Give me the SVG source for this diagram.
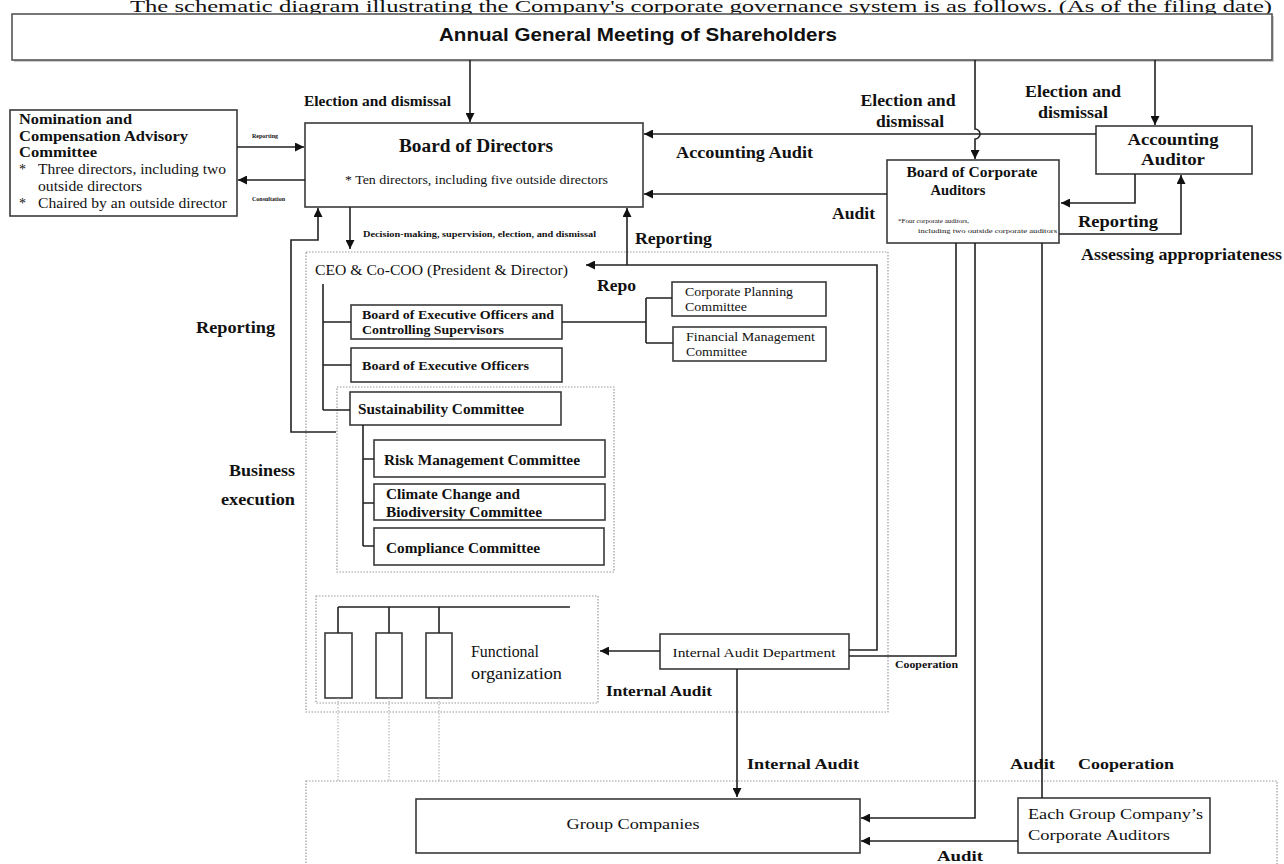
<svg xmlns="http://www.w3.org/2000/svg" width="1284" height="864" viewBox="0 0 1284 864">
<defs>
<marker id="ah" viewBox="0 0 10 10" refX="10" refY="5" markerWidth="9" markerHeight="9" markerUnits="userSpaceOnUse" orient="auto"><path d="M0,0 L10,5 L0,10 z" fill="#111"/></marker>
</defs>
<style>
.box{fill:#fff;stroke:#3a3a3a;stroke-width:1.6}
.dot{fill:none;stroke:#999;stroke-width:1.2;stroke-dasharray:1.5 1.5}
.ln{fill:none;stroke:#222;stroke-width:1.6}
.ar{fill:none;stroke:#222;stroke-width:1.6;marker-end:url(#ah)}
.dl{fill:none;stroke:#aaa;stroke-width:1;stroke-dasharray:1.5 1.5}
text{font-family:"Liberation Serif","Times New Roman",serif;fill:#111}
text.sans{font-family:"Liberation Sans",Arial,sans-serif}
.b{font-weight:bold}
.lb{font-weight:bold;font-size:16px}
.s14{font-size:14px}
.s12{font-size:12px}
</style>
<rect width="1284" height="864" fill="#fff"/>
<text x="130" y="12" font-size="16" textLength="1142" lengthAdjust="spacingAndGlyphs">The schematic diagram illustrating the Company's corporate governance system is as follows. (As of the filing date)</text>

<!-- dotted containers -->
<rect class="dot" x="306" y="252" width="582" height="460"/>
<rect class="dot" x="337" y="387" width="277" height="185"/>
<rect class="dot" x="316" y="596" width="282" height="107"/>
<rect class="dot" x="306" y="781" width="971" height="90"/>

<g id="agm">
<rect x="14" y="16" width="1260" height="46" fill="#ccc"/>
<rect x="12" y="14" width="1260" height="46" fill="#fff" stroke="#555" stroke-width="1.6"/>
<text class="sans" x="638" y="41" text-anchor="middle" font-weight="bold" font-size="19" textLength="398" lengthAdjust="spacingAndGlyphs">Annual General Meeting of Shareholders</text>
</g>

<g id="nomination">
<rect class="box" x="10" y="110" width="227" height="106"/>
<text class="b s14" x="19" y="124" textLength="113" lengthAdjust="spacingAndGlyphs">Nomination and</text>
<text class="b s14" x="19" y="141" textLength="169" lengthAdjust="spacingAndGlyphs">Compensation Advisory</text>
<text class="b s14" x="19" y="157" textLength="78" lengthAdjust="spacingAndGlyphs">Committee</text>
<text class="s14" x="19" y="174">*</text>
<text class="s14" x="38" y="174" textLength="188" lengthAdjust="spacingAndGlyphs">Three directors, including two</text>
<text class="s14" x="38" y="191" textLength="104" lengthAdjust="spacingAndGlyphs">outside directors</text>
<text class="s14" x="19" y="208">*</text>
<text class="s14" x="38" y="208" textLength="189" lengthAdjust="spacingAndGlyphs">Chaired by an outside director</text>
</g>

<g id="board-of-directors">
<rect class="box" x="305" y="123" width="338" height="84"/>
<text class="b" x="476" y="152" font-size="18" text-anchor="middle" textLength="154" lengthAdjust="spacingAndGlyphs">Board of Directors</text>
<text x="345" y="184" font-size="13" textLength="263" lengthAdjust="spacingAndGlyphs">* Ten directors, including five outside directors</text>
</g>

<g id="corporate-auditors">
<rect class="box" x="887" y="160" width="172" height="83"/>
<text class="b s14" x="972" y="177" text-anchor="middle" textLength="131" lengthAdjust="spacingAndGlyphs">Board of Corporate</text>
<text class="b s14" x="958" y="195" text-anchor="middle" textLength="55" lengthAdjust="spacingAndGlyphs">Auditors</text>
<text x="898" y="223" font-size="7" fill="#444">*Four corporate auditors,</text>
<text x="918" y="233" font-size="7" fill="#444" textLength="139" lengthAdjust="spacingAndGlyphs">including two outside corporate auditors</text>
</g>

<g id="accounting-auditor">
<rect class="box" x="1096" y="126" width="156" height="48"/>
<text class="b" x="1173" y="145" font-size="16" text-anchor="middle" textLength="91" lengthAdjust="spacingAndGlyphs">Accounting</text>
<text class="b" x="1173" y="165" font-size="16" text-anchor="middle" textLength="64" lengthAdjust="spacingAndGlyphs">Auditor</text>
</g>

<g id="ceo">
<text class="s14" x="315" y="275" textLength="253" lengthAdjust="spacingAndGlyphs">CEO &amp; Co-COO (President &amp; Director)</text>
</g>

<g id="boeo-cs">
<rect class="box" x="351" y="305" width="211" height="34"/>
<text class="b s12" x="362" y="319" textLength="192" lengthAdjust="spacingAndGlyphs">Board of Executive Officers and</text>
<text class="b s12" x="362" y="334" textLength="142" lengthAdjust="spacingAndGlyphs">Controlling Supervisors</text>
</g>

<g id="boeo">
<rect class="box" x="351" y="348" width="211" height="34"/>
<text class="b s12" x="362" y="370" textLength="167" lengthAdjust="spacingAndGlyphs">Board of Executive Officers</text>
</g>

<g id="corporate-planning">
<rect class="box" x="672" y="282" width="154" height="34"/>
<text class="s12" x="685" y="296" textLength="108" lengthAdjust="spacingAndGlyphs">Corporate Planning</text>
<text class="s12" x="685" y="311" textLength="62" lengthAdjust="spacingAndGlyphs">Committee</text>
</g>

<g id="financial-management">
<rect class="box" x="673" y="327" width="153" height="34"/>
<text class="s12" x="686" y="341" textLength="129" lengthAdjust="spacingAndGlyphs">Financial Management</text>
<text class="s12" x="686" y="356" textLength="61" lengthAdjust="spacingAndGlyphs">Committee</text>
</g>

<g id="sustainability">
<rect class="box" x="350" y="392" width="211" height="33"/>
<text class="b s14" x="358" y="414" textLength="166" lengthAdjust="spacingAndGlyphs">Sustainability Committee</text>
</g>

<g id="risk">
<rect class="box" x="374" y="440" width="231" height="37"/>
<text class="b s14" x="384" y="465" textLength="196" lengthAdjust="spacingAndGlyphs">Risk Management Committee</text>
</g>

<g id="climate">
<rect class="box" x="374" y="484" width="231" height="36"/>
<text class="b s14" x="386" y="499" textLength="134" lengthAdjust="spacingAndGlyphs">Climate Change and</text>
<text class="b s14" x="386" y="517" textLength="156" lengthAdjust="spacingAndGlyphs">Biodiversity Committee</text>
</g>

<g id="compliance">
<rect class="box" x="374" y="528" width="230" height="37"/>
<text class="b s14" x="386" y="553" textLength="154" lengthAdjust="spacingAndGlyphs">Compliance Committee</text>
</g>

<g id="functional-organization">
<rect class="box" x="325" y="633" width="27" height="65"/>
<rect class="box" x="376" y="633" width="26" height="65"/>
<rect class="box" x="426" y="633" width="26" height="65"/>
<text x="471" y="657" font-size="16" textLength="68" lengthAdjust="spacingAndGlyphs">Functional</text>
<text x="471" y="679" font-size="16" textLength="91" lengthAdjust="spacingAndGlyphs">organization</text>
</g>

<g id="internal-audit-dept">
<rect class="box" x="660" y="634" width="189" height="35"/>
<text x="754" y="657" font-size="13" text-anchor="middle" textLength="163" lengthAdjust="spacingAndGlyphs">Internal Audit Department</text>
</g>

<g id="group-companies">
<rect class="box" x="416" y="799" width="444" height="54"/>
<text class="s14" x="633" y="829" text-anchor="middle" textLength="133" lengthAdjust="spacingAndGlyphs">Group Companies</text>
</g>

<g id="group-auditors">
<rect class="box" x="1018" y="798" width="192" height="55"/>
<text class="s14" x="1028" y="819" textLength="175" lengthAdjust="spacingAndGlyphs">Each Group Company’s</text>
<text class="s14" x="1028" y="840" textLength="142" lengthAdjust="spacingAndGlyphs">Corporate Auditors</text>
</g>

<g id="connectors">
<path class="ar" d="M470,60 V122"/>
<path class="ar" d="M975,60 V129 a5,5 0 0 1 0,10 V159"/>
<path class="ar" d="M1155,60 V125"/>
<path class="ar" d="M237,147 H304"/>
<path class="ar" d="M305,180 H238"/>
<path class="ar" d="M350,207 V249"/>
<path class="ar" d="M336,432 H291 V240 H318 V208"/>
<path class="ar" d="M627,265 V208"/>
<path class="ar" d="M849,650 H877 V265 H586"/>
<path class="ar" d="M1096,134 H644"/>
<path class="ar" d="M887,194 H644"/>
<path class="ar" d="M1135,174 V203 H1061"/>
<path class="ar" d="M1059,234 H1181 V175"/>
<path class="ln" d="M956,243 V656 H849"/>
<path class="ar" d="M975,243 V818 H861"/>
<path class="ln" d="M1042,243 V798"/>
<path class="ar" d="M660,651 H600"/>
<path class="ar" d="M737,669 V797"/>
<path class="ar" d="M1018,841 H861"/>
<path class="ln" d="M562,322 H646 M646,298 V343 M646,298 H672 M646,343 H673"/>
<path class="ln" d="M323,284 V410 M323,322 H351 M323,365 H351 M323,410 H350"/>
<path class="ln" d="M363,425 V546 M363,459 H374 M363,503 H374 M363,546 H374"/>
<path class="ln" d="M338,607 H570 M338,607 V633 M389,607 V633 M439,607 V633"/>
<path class="dl" d="M338,698 V781 M389,698 V781 M439,698 V781"/>
</g>

<g id="labels">
<text class="b s14" x="304" y="106" textLength="147" lengthAdjust="spacingAndGlyphs">Election and dismissal</text>
<text class="lb" x="908" y="106" text-anchor="middle" textLength="95" lengthAdjust="spacingAndGlyphs">Election and</text>
<text class="lb" x="910" y="127" text-anchor="middle" textLength="68" lengthAdjust="spacingAndGlyphs">dismissal</text>
<text class="lb" x="1073" y="97" text-anchor="middle" textLength="96" lengthAdjust="spacingAndGlyphs">Election and</text>
<text class="lb" x="1073" y="118" text-anchor="middle" textLength="70" lengthAdjust="spacingAndGlyphs">dismissal</text>
<text x="252" y="138" font-size="6" font-weight="bold" fill="#333">Reporting</text>
<text x="252" y="201" font-size="6" font-weight="bold" fill="#333">Consultation</text>
<text x="363" y="237" font-size="9" font-weight="bold" fill="#1a1a3a" textLength="233" lengthAdjust="spacingAndGlyphs">Decision-making, supervision, election, and dismissal</text>
<text class="lb" x="676" y="158" textLength="137" lengthAdjust="spacingAndGlyphs">Accounting Audit</text>
<text class="lb" x="832" y="219" textLength="43" lengthAdjust="spacingAndGlyphs">Audit</text>
<text class="lb" x="635" y="244" textLength="77" lengthAdjust="spacingAndGlyphs">Reporting</text>
<text class="lb" x="597" y="291" textLength="39" lengthAdjust="spacingAndGlyphs">Repo</text>
<text class="lb" x="1078" y="227" textLength="80" lengthAdjust="spacingAndGlyphs">Reporting</text>
<text class="lb" x="1081" y="260" textLength="201" lengthAdjust="spacingAndGlyphs">Assessing appropriateness</text>
<text class="lb" x="196" y="333" textLength="79" lengthAdjust="spacingAndGlyphs">Reporting</text>
<text class="lb" x="295" y="476" text-anchor="end" textLength="66" lengthAdjust="spacingAndGlyphs">Business</text>
<text class="lb" x="295" y="505" text-anchor="end" textLength="74" lengthAdjust="spacingAndGlyphs">execution</text>
<text class="b s14" x="606" y="696" textLength="106" lengthAdjust="spacingAndGlyphs">Internal Audit</text>
<text class="b" x="895" y="668" font-size="11" textLength="63" lengthAdjust="spacingAndGlyphs">Cooperation</text>
<text class="b" x="747" y="769" font-size="15" textLength="112" lengthAdjust="spacingAndGlyphs">Internal Audit</text>
<text class="b" x="1010" y="769" font-size="15" textLength="45" lengthAdjust="spacingAndGlyphs">Audit</text>
<text class="b" x="1078" y="769" font-size="15" textLength="96" lengthAdjust="spacingAndGlyphs">Cooperation</text>
<text class="b" x="937" y="861" font-size="15" textLength="46" lengthAdjust="spacingAndGlyphs">Audit</text>
</g>
</svg>
